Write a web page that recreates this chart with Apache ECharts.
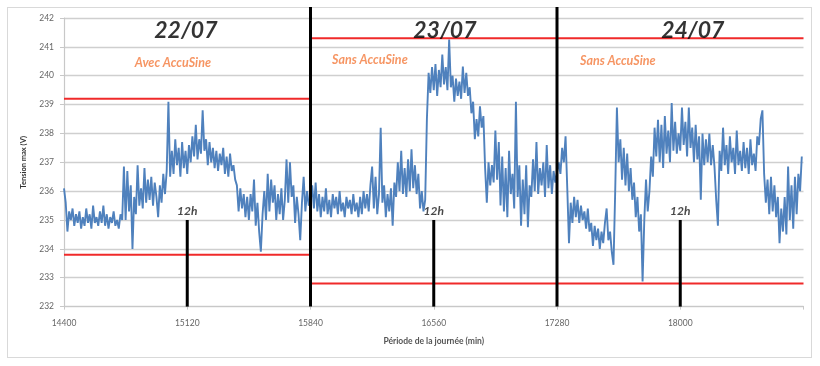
<!DOCTYPE html>
<html>
<head>
<meta charset="utf-8">
<script src="https://cdn.jsdelivr.net/npm/echarts@6/dist/echarts.min.js"></script>
<style>
  html, body { margin: 0; padding: 0; background: #ffffff; }
  #frame { position: absolute; left: 7px; top: 7px; width: 805px; height: 351px; border: 1px solid #d9d9d9; box-sizing: border-box; }
  #chart { position: absolute; left: 0; top: 0; width: 820px; height: 366px; }
</style>
</head>
<body>
<div id="frame"></div>
<div id="chart"></div>
<script>
// Maximum voltage, one reading every 10 minutes
const startMinute = 14400;
const stepMinutes = 10;

const day22 = [
  236.1, 235.6, 234.6, 235.3, 235.0, 235.4, 234.8, 235.2, 234.9, 235.3, 234.7, 235.1,
  234.8, 235.4, 234.9, 235.2, 234.7, 235.5, 234.9, 235.1, 234.8, 235.3, 234.9, 235.5,
  234.8, 235.2, 234.7, 235.1, 234.9, 235.3, 234.8, 235.0, 234.7, 235.2, 235.0, 236.85,
  235.0, 236.7, 235.3, 236.2, 234.0, 235.8, 235.2, 236.9, 235.5, 236.1, 235.4, 236.8,
  235.6, 236.4, 235.7, 236.5, 235.5, 236.3, 235.8, 235.1, 236.2, 235.6, 236.6, 235.9,
  236.7, 239.1, 236.5, 237.4, 236.6, 237.8, 236.9, 237.5, 236.5, 237.7, 236.8, 237.4,
  236.6, 237.6, 237.0, 237.9, 237.2, 238.3, 237.1, 237.8, 237.3, 238.8, 237.4, 237.8,
  236.9, 237.7, 237.0, 237.5, 236.8, 237.4, 236.7, 237.3, 236.9, 237.5, 236.6, 237.2,
  236.5, 237.3, 236.7, 236.9, 236.4, 236.2, 235.3, 236.1, 235.4, 235.9, 235.1, 235.8,
  235.0, 235.9, 235.3, 236.4, 234.8, 235.6, 234.6, 233.9, 235.2, 236.0, 235.0, 236.6,
  235.3, 236.4, 235.6, 236.2, 235.0, 235.9, 235.2, 236.1, 235.0, 235.7, 237.1, 235.6,
  237.0, 235.8, 236.2, 234.9, 235.8, 235.2, 234.3, 235.6, 236.5, 235.3, 236.0, 235.5
];

const day23 = [
  235.6, 236.2, 235.4, 236.3, 235.3, 235.9, 235.1, 235.8, 235.3, 236.1, 235.2, 235.7,
  235.1, 235.9, 235.4, 235.8, 235.2, 236.0, 235.3, 235.6, 235.1, 235.8, 235.4, 235.7,
  235.2, 235.9, 235.3, 235.6, 235.1, 235.8, 235.2, 236.0, 235.4, 235.9, 235.3, 236.2,
  236.85, 235.4, 236.5, 235.2, 235.9, 238.2, 235.6, 236.2, 235.1, 235.9, 235.3, 236.1,
  234.8, 236.3, 235.8, 237.0, 236.0, 237.4, 235.9, 236.8, 235.8, 237.1, 236.0, 237.45,
  236.1, 236.9, 235.9, 236.6, 235.4, 236.0, 235.3, 235.7, 238.5, 240.1, 239.4, 240.3,
  239.5, 240.4, 239.3, 240.2, 239.6, 240.73, 239.7, 240.3, 239.5, 241.25, 239.6, 240.0,
  239.1, 239.9, 239.3, 239.8, 239.2, 240.32, 239.4, 240.1, 239.3, 239.6, 238.7, 239.1,
  237.8, 238.5, 237.9, 238.94, 238.2, 238.6, 236.8, 235.6, 237.0, 236.2, 236.9, 236.3,
  238.1, 236.4, 237.7, 235.5, 237.2, 235.3, 236.8, 235.1, 237.4, 235.9, 236.6, 235.4,
  239.1, 235.8, 236.9, 234.8, 236.4, 235.2, 236.9, 234.75, 236.2, 235.8, 237.1, 236.0,
  237.7, 235.9, 236.8, 236.2, 237.0, 235.8, 237.6, 236.1, 236.9, 235.9, 236.7, 236.3
];

const day24 = [
  236.3, 237.0, 236.6, 237.5, 237.0, 237.9, 236.1, 234.2, 235.6, 234.9, 235.8, 235.1,
  235.7, 234.9, 235.5, 235.0, 235.3, 234.7, 235.4, 234.6, 234.9, 234.1, 234.8, 234.3,
  234.7, 234.0, 234.6, 234.2, 234.9, 235.4, 234.3, 234.6, 233.9, 233.45, 236.0, 238.9,
  237.0, 237.8, 236.4, 237.5, 236.2, 237.3, 236.0, 236.8, 235.7, 236.3, 235.1, 235.8,
  234.6, 235.2, 232.87, 235.0, 236.4, 235.3, 236.0, 237.2, 236.5, 238.2, 237.2, 238.47,
  237.0, 238.3, 236.8, 238.6, 237.3, 238.1, 237.0, 239.05, 237.4, 238.4, 237.3, 238.0,
  237.4, 238.9, 237.6, 238.4, 237.2, 238.9, 237.5, 238.2, 237.0, 238.3, 237.1, 237.9,
  235.7, 238.0, 236.9, 237.8, 237.0, 238.0, 236.9, 237.6, 236.85, 235.7, 234.8, 237.4,
  236.7, 238.2, 236.9, 237.6, 236.6, 237.9, 237.0, 237.5, 236.6, 238.1, 236.9, 237.4,
  236.7, 237.7, 236.8, 237.5, 236.6, 237.8, 236.9, 237.3, 236.7, 237.9, 237.6, 238.5,
  238.8, 236.6, 235.6, 236.4, 235.2, 236.5, 235.3, 236.2, 235.1, 235.8, 234.2, 235.4,
  234.6, 235.8, 234.5, 236.85, 235.0, 236.2, 234.7, 236.5, 235.2, 236.6, 236.0, 237.2
];

// Axes
const xMin = 14400, xMax = 18720, xStep = 720;
const xTickLabels = [14400, 15120, 15840, 16560, 17280, 18000];
const yMin = 232, yMax = 242, yStep = 1;

// Day separators and noon markers
const dayBoundaries = [15840, 17280];
const noonMarks = [15120, 16560, 18000];
const noonTop = 235;
const noonText = '12h';

// Voltage limit bands: start, end, high, low
const limitStart = [14400, 15840];
const limitEnd = [15840, 18720];
const limitHigh = [239.2, 241.3];
const limitLow = [233.8, 232.8];

// Day titles and operating mode notes
const dayTitles = ['22/07', '23/07', '24/07'];
const dayTitleX = [15112, 16625, 18073];
const dayTitleY = 241.55;
const modeTexts = ['Avec AccuSine', 'Sans AccuSine', 'Sans AccuSine'];
const modeX = [15036, 16187, 17635];
const modeY = [240.45, 240.55, 240.52];

const FONT = 'Lato, "Open Sans", "Liberation Sans", sans-serif';

const voltage = day22.concat(day23, day24).map((v, k) => [startMinute + k * stepMinutes, v]);

const chart = echarts.init(document.getElementById('chart'), null, { renderer: 'canvas' });

const limitSeries = [];
limitStart.forEach((s, i) => {
  [limitHigh[i], limitLow[i]].forEach(level => {
    limitSeries.push({
      type: 'line', xAxisIndex: 0, yAxisIndex: 0, z: 4,
      data: [[s, level], [limitEnd[i], level]],
      showSymbol: false, symbol: 'none', silent: true,
      lineStyle: { color: '#f02a2a', width: 2 }
    });
  });
});

const noonSeries = noonMarks.map(x => ({
  type: 'line', xAxisIndex: 0, yAxisIndex: 0, z: 5,
  data: [[x, yMin], [x, noonTop]],
  showSymbol: false, symbol: 'none', silent: true, clip: false,
  lineStyle: { color: '#000000', width: 3 }
}));

const boundarySeries = dayBoundaries.map(x => ({
  type: 'line', xAxisIndex: 1, yAxisIndex: 1, z: 6,
  data: [[x, 0], [x, 1]],
  showSymbol: false, symbol: 'none', silent: true, clip: false,
  lineStyle: { color: '#000000', width: 3 }
}));

const labelItems = [];
dayTitles.forEach((t, i) => labelItems.push({
  value: [dayTitleX[i], dayTitleY],
  label: { show: true, formatter: t, position: 'inside', fontSize: 23, fontWeight: 'bold', fontStyle: 'italic', color: '#000000', fontFamily: FONT }
}));
modeTexts.forEach((t, i) => labelItems.push({
  value: [modeX[i], modeY[i]],
  label: { show: true, formatter: t, position: 'inside', fontSize: 12.5, fontWeight: 'bold', fontStyle: 'italic', color: '#f47a3c', fontFamily: FONT }
}));
noonMarks.forEach(x => labelItems.push({
  value: [x, noonTop],
  label: { show: true, formatter: noonText, position: 'top', distance: 3, fontSize: 12, fontWeight: 'bold', fontStyle: 'italic', color: '#1a1a1a', fontFamily: FONT }
}));

chart.setOption({
  animation: false,
  backgroundColor: 'transparent',
  grid: [
    { left: 64, right: 16.5, top: 18, bottom: 59.4, outerBoundsMode: 'none', containLabel: false },
    { left: 64, right: 16.5, top: 7, bottom: 59.4, outerBoundsMode: 'none', containLabel: false, show: false }
  ],
  xAxis: [
    {
      type: 'value', gridIndex: 0, min: xMin, max: xMax, interval: xStep,
      name: 'Période de la journée (min)', nameLocation: 'middle', nameGap: 30,
      nameTextStyle: { fontSize: 8.5, fontWeight: 'bold', color: '#555555', fontFamily: FONT },
      axisLine: { show: true, lineStyle: { color: '#c8c8c8', width: 1.2 } },
      axisTick: { show: true, length: 3, lineStyle: { color: '#c8c8c8' } },
      axisLabel: {
        margin: 12, fontSize: 8.5, color: '#666666', fontFamily: FONT,
        formatter: v => (xTickLabels.indexOf(v) >= 0 ? String(v) : '')
      },
      splitLine: { show: false }
    },
    { type: 'value', gridIndex: 1, min: xMin, max: xMax, show: false }
  ],
  yAxis: [
    {
      type: 'value', gridIndex: 0, min: yMin, max: yMax, interval: yStep,
      name: 'Tension max (V)', nameLocation: 'middle', nameGap: 36,
      nameTextStyle: { fontSize: 7.5, fontWeight: 'bold', color: '#333333', fontFamily: FONT },
      axisLine: { show: true, lineStyle: { color: '#c8c8c8', width: 1.2 } },
      axisTick: { show: true, length: 4, lineStyle: { color: '#c8c8c8' } },
      axisLabel: { margin: 10, fontSize: 8.5, color: '#666666', fontFamily: FONT },
      splitLine: { show: true, lineStyle: { color: '#cfcfcf', width: 1.3 } }
    },
    { type: 'value', gridIndex: 1, min: 0, max: 1, show: false }
  ],
  series: [
    {
      type: 'line', name: 'Tension max', xAxisIndex: 0, yAxisIndex: 0, z: 3,
      data: voltage, showSymbol: false, symbol: 'none', silent: true,
      lineStyle: { color: '#4f81bd', width: 1.9 }
    },
    ...limitSeries,
    ...noonSeries,
    ...boundarySeries,
    {
      type: 'scatter', xAxisIndex: 0, yAxisIndex: 0, z: 8,
      symbolSize: 0, silent: true, clip: false,
      data: labelItems
    }
  ]
});
</script>
</body>
</html>
